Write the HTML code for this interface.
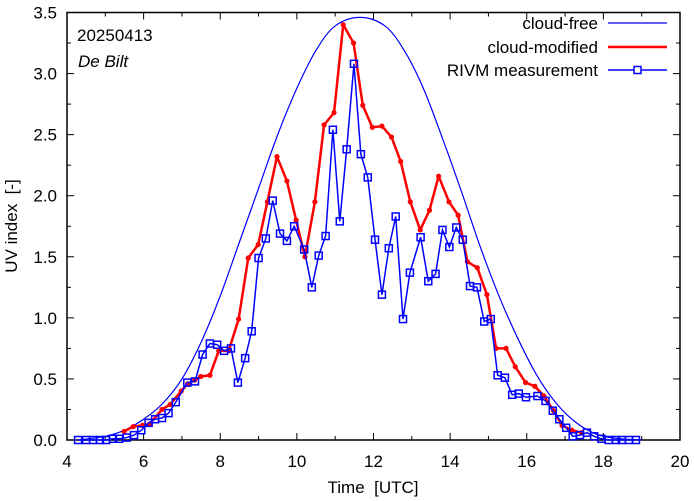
<!DOCTYPE html>
<html><head><meta charset="utf-8"><style>
html,body{margin:0;padding:0;background:#fff;}
svg{display:block;font-family:"Liberation Sans",sans-serif;}
text{white-space:pre;}
</style></head><body>
<svg id="chart" width="694" height="501" viewBox="0 0 694 501" xmlns="http://www.w3.org/2000/svg" xml:space="preserve">
<g id="axes"></g>
<g id="series"></g>
<text x="77" y="41" font-size="17">20250413</text>
<text x="78" y="67" font-size="17" font-style="italic">De Bilt</text>
<text x="373" y="493" font-size="17" text-anchor="middle">Time  [UTC]</text>
<text transform="translate(17,226) rotate(-90)" font-size="17" text-anchor="middle">UV index  [-]</text>
<g id="legend"></g>
</svg>
<script>
const clearTimes=[4.3,5.0,5.5,6.0,6.5,7.0,7.5,8.0,8.5,9.0,9.5,10.0,10.5,11.0,11.65,12.3,12.8,13.3,13.8,14.3,14.8,15.3,15.8,16.3,16.8,17.3,17.8,18.3,19.0];
const clearValues=[0,0.03,0.08,0.17,0.30,0.50,0.80,1.18,1.62,2.06,2.5,2.88,3.19,3.39,3.46,3.39,3.19,2.88,2.47,2.03,1.57,1.16,0.81,0.51,0.29,0.14,0.05,0.015,0];
const cloudTimes=[5.49,5.73,5.97,6.15,6.48,6.69,6.98,7.15,7.33,7.49,7.73,7.96,8.22,8.48,8.73,8.99,9.23,9.48,9.74,9.98,10.21,10.47,10.71,10.97,11.21,11.48,11.72,11.97,12.22,12.47,12.71,12.96,13.22,13.46,13.7,13.97,14.21,14.45,14.71,14.96,15.2,15.46,15.7,15.97,16.21,16.45,16.7,16.92,17.18,17.43];
const cloudValues=[0.07,0.11,0.12,0.13,0.25,0.29,0.40,0.46,0.49,0.52,0.53,0.73,0.73,0.99,1.49,1.60,1.95,2.32,2.12,1.80,1.50,1.95,2.58,2.68,3.40,3.25,2.74,2.56,2.57,2.48,2.28,1.95,1.72,1.88,2.16,1.95,1.84,1.46,1.41,1.19,0.75,0.75,0.60,0.47,0.44,0.36,0.24,0.12,0.08,0.06];
const measTimes=[4.29,4.5,4.68,4.86,5.02,5.2,5.36,5.56,5.75,5.94,6.13,6.3,6.48,6.65,6.84,7.14,7.34,7.54,7.73,7.92,8.1,8.28,8.46,8.65,8.82,9.0,9.19,9.37,9.56,9.74,9.93,10.19,10.39,10.57,10.75,10.94,11.12,11.3,11.49,11.67,11.85,12.04,12.22,12.4,12.58,12.77,12.95,13.23,13.43,13.62,13.8,13.98,14.16,14.33,14.52,14.7,14.89,15.06,15.24,15.43,15.62,15.79,15.98,16.28,16.49,16.68,16.85,17.03,17.2,17.39,17.57,17.76,17.95,18.14,18.33,18.48,18.67,18.85];
const measValues=[0,0,0,0,0,0.01,0.01,0.02,0.04,0.08,0.14,0.17,0.18,0.22,0.31,0.47,0.48,0.70,0.79,0.78,0.73,0.75,0.47,0.67,0.89,1.49,1.65,1.96,1.69,1.63,1.75,1.56,1.25,1.51,1.67,2.54,1.79,2.38,3.08,2.34,2.15,1.64,1.19,1.57,1.83,0.99,1.37,1.66,1.30,1.36,1.72,1.58,1.74,1.64,1.26,1.25,0.97,0.99,0.53,0.51,0.37,0.38,0.35,0.36,0.32,0.24,0.17,0.10,0.03,0.04,0.06,0.03,0.01,0,0,0,0,0];
const xTicks=[4,6,8,10,12,14,16,18,20];
const yTicks=[0,0.5,1,1.5,2,2.5,3,3.5];
const yTickLabels=["0.0","0.5","1.0","1.5","2.0","2.5","3.0","3.5"];

const L=67,R=680,T=12.5,B=440;
const X=t=>L+(t-4)/16*(R-L);
const Y=v=>B-v/3.5*(B-T);
const NS="http://www.w3.org/2000/svg";
function mk(tag,attrs,parent){const e=document.createElementNS(NS,tag);for(const k in attrs)e.setAttribute(k,attrs[k]);parent.appendChild(e);return e;}
const axes=document.getElementById('axes');
const frame=mk('rect',{x:L,y:T,width:R-L,height:B-T,fill:'none',stroke:'#000','stroke-width':1.5},axes);


for(let t=4;t<=20;t+=1){const major=t%2===0;const len=major?7:4;
 const a=mk('line',{x1:X(t),x2:X(t),y1:B,y2:B-len,stroke:'#000','stroke-width':1},axes);
 
 
 const b=mk('line',{x1:X(t),x2:X(t),y1:T,y2:T+len,stroke:'#000','stroke-width':1},axes);
 
 }
for(let i=0;i<=14;i++){const v=i*0.25;const major=i%2===0;const len=major?7:4;
 const a=mk('line',{x1:L,x2:L+len,y1:Y(v),y2:Y(v),stroke:'#000','stroke-width':1},axes);
 
 
 const b=mk('line',{x1:R,x2:R-len,y1:Y(v),y2:Y(v),stroke:'#000','stroke-width':1},axes);
 
 }
xTicks.forEach(t=>{const e=mk('text',{x:X(t),y:467,'font-size':17,'text-anchor':'middle'},axes);e.textContent=t;
 
 });
yTicks.forEach((v,i)=>{const e=mk('text',{x:57,y:Y(v)+6,'font-size':17,'text-anchor':'end'},axes);e.textContent=yTickLabels[i];
 
 });

const ser=document.getElementById('series');
const P=clearTimes.map((t,i)=>[X(t),Y(clearValues[i])]);
let d='M'+P[0][0]+','+P[0][1];
for(let i=0;i<P.length-1;i++){const p0=P[Math.max(0,i-1)],p1=P[i],p2=P[i+1],p3=P[Math.min(P.length-1,i+2)];
 d+=' C'+(p1[0]+(p2[0]-p0[0])/6)+','+(p1[1]+(p2[1]-p0[1])/6)+' '+(p2[0]-(p3[0]-p1[0])/6)+','+(p2[1]-(p3[1]-p1[1])/6)+' '+p2[0]+','+p2[1];}
const cf=mk('path',{d:d,fill:'none',stroke:'#0000ff','stroke-width':1.2},ser);



const cl=mk('polyline',{points:cloudTimes.map((t,i)=>X(t)+','+Y(cloudValues[i])).join(' '),fill:'none',stroke:'#ff0000','stroke-width':2.5,'stroke-linejoin':'round'},ser);


cloudTimes.forEach((t,i)=>{const c=mk('circle',{cx:X(t),cy:Y(cloudValues[i]),r:2.6,fill:'#ff0000'},ser);
 
 });

const ml=mk('polyline',{points:measTimes.map((t,i)=>X(t)+','+Y(measValues[i])).join(' '),fill:'none',stroke:'#0000ff','stroke-width':1.5},ser);


measTimes.forEach((t,i)=>{const s=mk('rect',{x:X(t)-3.5,y:Y(measValues[i])-3.5,width:7,height:7,fill:'none',stroke:'#0000ff','stroke-width':1.5},ser);
 
 });

const lg=document.getElementById('legend');
const entries=[['cloud-free',23,'cf'],['cloud-modified',47,'cm'],['RIVM measurement',70,'rv']];
entries.forEach(([lab,y,k])=>{
 const tx=mk('text',{x:598,y:y+6,'font-size':17,'text-anchor':'end'},lg);tx.textContent=lab;
 
 
 const ln=mk('line',{x1:608,x2:667,y1:y,y2:y,stroke:k==='cm'?'#ff0000':'#0000ff','stroke-width':k==='cm'?2.5:(k==='cf'?1.2:1.5)},lg);
 
 
 if(k==='rv'){const s=mk('rect',{x:634,y:y-3.5,width:7,height:7,fill:'#fff',stroke:'#0000ff','stroke-width':1.5},lg);
  
  }
});
</script>
</body></html>
